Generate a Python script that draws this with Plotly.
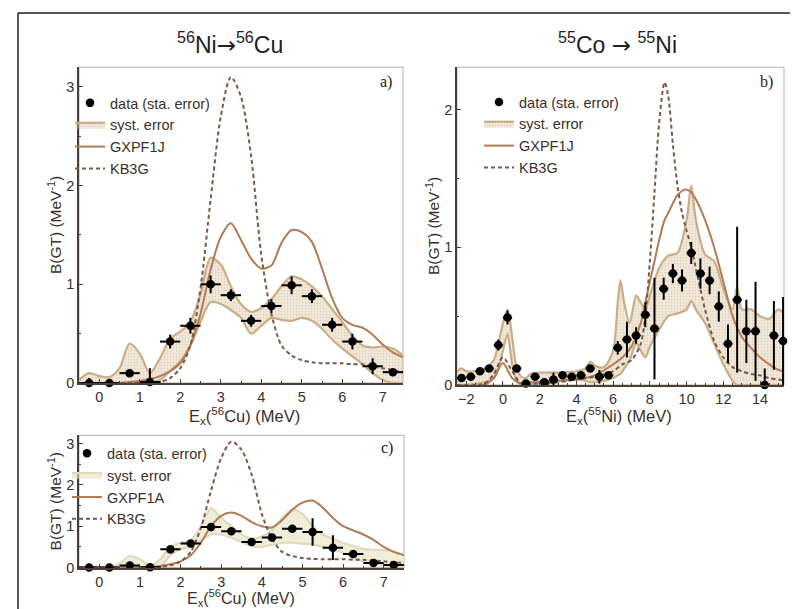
import plotly.graph_objects as go

# ---------------- Panel a: 56Ni -> 56Cu (GXPF1J) ----------------
a_x = [-0.25, 0.25, 0.75, 1.25, 1.75, 2.25, 2.75, 3.25, 3.75, 4.25, 4.75, 5.25, 5.75, 6.25, 6.75, 7.25]
a_y = [0.0, 0.0, 0.10, 0.01, 0.42, 0.58, 1.00, 0.89, 0.63, 0.78, 0.99, 0.88, 0.59, 0.42, 0.17, 0.11]
a_err = [0.05, 0.01, 0.03, 0.14, 0.07, 0.08, 0.09, 0.06, 0.06, 0.07, 0.09, 0.07, 0.07, 0.08, 0.08, 0.04]

grid_ac = [-0.5, -0.25, 0.0, 0.25, 0.5, 0.75, 1.0, 1.25, 1.5, 1.75, 2.0, 2.25, 2.5, 2.75, 3.0, 3.25, 3.5,
           3.75, 4.0, 4.25, 4.5, 4.75, 5.0, 5.25, 5.5, 5.75, 6.0, 6.25, 6.5, 6.75, 7.0, 7.25, 7.5]
a_band_hi = [0.03, 0.10, 0.07, 0.06, 0.15, 0.40, 0.30, 0.10, 0.25, 0.45, 0.52, 0.62, 0.90, 1.27, 1.20, 0.98, 0.80,
             0.72, 0.76, 0.85, 0.98, 1.08, 1.05, 0.98, 0.88, 0.75, 0.62, 0.48, 0.38, 0.36, 0.37, 0.35, 0.28]
a_band_lo = [0.0, 0.0, 0.0, 0.0, 0.0, 0.0, 0.0, 0.0, 0.03, 0.12, 0.22, 0.38, 0.62, 0.82, 0.80, 0.74, 0.66,
             0.50, 0.58, 0.66, 0.64, 0.63, 0.66, 0.63, 0.55, 0.44, 0.35, 0.27, 0.19, 0.10, 0.03, 0.0, 0.0]
a_gxpf = [0.0, 0.0, 0.0, 0.0, 0.0, 0.01, 0.02, 0.04, 0.07, 0.12, 0.20, 0.38, 0.70, 1.15, 1.48, 1.62, 1.45,
          1.26, 1.16, 1.19, 1.42, 1.55, 1.53, 1.43, 1.16, 0.86, 0.66, 0.59, 0.56, 0.49, 0.39, 0.31, 0.26]
a_kb3g = [0.0, 0.0, 0.0, 0.0, 0.0, 0.0, 0.0, 0.0, 0.01, 0.05, 0.15, 0.38, 0.96, 1.86, 2.70, 3.10, 2.90,
          2.30, 1.30, 0.70, 0.38, 0.28, 0.23, 0.21, 0.20, 0.20, 0.20, 0.19, 0.19, 0.17, 0.15, 0.13, 0.11]

# ---------------- Panel b: 55Co -> 55Ni ----------------
b_x = [-2.25, -1.75, -1.25, -0.75, -0.25, 0.25, 0.75, 1.25, 1.75, 2.25, 2.75, 3.25, 3.75, 4.25, 4.75, 5.25,
       5.75, 6.25, 6.75, 7.25, 7.75, 8.25, 8.75, 9.25, 9.75, 10.25, 10.75, 11.25, 11.75, 12.25, 12.75,
       13.25, 13.75, 14.25, 14.75, 15.25]
b_y = [0.05, 0.06, 0.10, 0.12, 0.29, 0.49, 0.12, 0.01, 0.06, 0.02, 0.04, 0.07, 0.06, 0.07, 0.12, 0.06,
       0.07, 0.27, 0.33, 0.36, 0.51, 0.41, 0.70, 0.81, 0.76, 0.96, 0.81, 0.76, 0.57, 0.30, 0.62,
       0.39, 0.39, 0.0, 0.36, 0.32]
b_err = [0.02, 0.02, 0.02, 0.02, 0.04, 0.05, 0.02, 0.02, 0.02, 0.02, 0.05, 0.02, 0.02, 0.02, 0.02, 0.05,
         0.02, 0.05, 0.13, 0.06, 0.09, 0.37, 0.08, 0.07, 0.08, 0.08, 0.11, 0.10, 0.11, 0.14, 0.53,
         0.23, 0.36, 0.12, 0.25, 0.32]

b_band_x = [-2.5, -2.25, -2.0, -1.5, -1.0, -0.5, -0.25, 0.0, 0.25, 0.5, 0.75, 1.0, 1.25, 1.5, 2.0, 3.0, 4.0,
            4.5, 4.75, 5.0, 5.5, 6.0, 6.25, 6.4, 6.6, 6.9, 7.25, 7.5, 7.75, 8.0, 8.5, 9.0, 9.5, 10.0, 10.25,
            10.5, 11.0, 11.5, 12.0, 12.5, 12.75, 13.0, 13.5, 14.0, 14.5, 15.0, 15.3]
b_band_hi = [0.10, 0.12, 0.10, 0.10, 0.12, 0.18, 0.30, 0.45, 0.55, 0.35, 0.12, 0.06, 0.05, 0.08, 0.09, 0.09, 0.10,
             0.12, 0.17, 0.14, 0.13, 0.25, 0.60, 0.76, 0.60, 0.45, 0.65, 0.60, 0.55, 0.65, 0.85, 0.94, 0.96, 1.20, 1.45,
             1.20, 0.95, 0.90, 0.70, 0.55, 0.72, 0.55, 0.55, 0.50, 0.48, 0.55, 0.52]
b_band_lo = [0.0, 0.0, 0.0, 0.01, 0.02, 0.05, 0.12, 0.25, 0.37, 0.15, 0.03, 0.0, 0.0, 0.0, 0.02, 0.03, 0.04,
             0.03, 0.02, 0.02, 0.03, 0.05, 0.07, 0.08, 0.12, 0.18, 0.30, 0.25, 0.20, 0.28, 0.40, 0.50, 0.52, 0.55, 0.61,
             0.55, 0.45, 0.30, 0.15, 0.03, 0.0, 0.0, 0.0, 0.0, 0.0, 0.0, 0.0]

b_th_x = [-2.5, -1.0, -0.5, 0.0, 0.5, 1.0, 1.5, 2.0, 3.0, 4.0, 5.0, 6.0, 6.5, 7.0, 7.5, 7.75, 8.0, 8.25, 8.5,
          8.8, 9.0, 9.25, 9.5, 9.75, 9.9, 10.0, 10.25, 10.5, 11.0, 11.5, 12.0, 12.5, 13.0, 13.5, 14.0, 14.5, 15.0, 15.3]
b_gxpf = [0.0, 0.0, 0.05, 0.16, 0.05, 0.01, 0.02, 0.02, 0.03, 0.04, 0.07, 0.15, 0.20, 0.28, 0.45, 0.60, 0.75, 0.90, 1.05,
          1.20, 1.25, 1.32, 1.38, 1.41, 1.42, 1.42, 1.40, 1.35, 1.20, 1.00, 0.75, 0.50, 0.35, 0.27, 0.20, 0.15, 0.11, 0.10]
b_kb3g = [0.0, 0.01, 0.08, 0.20, 0.10, 0.01, 0.01, 0.01, 0.02, 0.04, 0.06, 0.10, 0.15, 0.18, 0.30, 0.50, 0.90, 1.40, 1.90,
          2.20, 2.10, 1.75, 1.45, 1.25, 1.17, 1.12, 1.00, 0.85, 0.55, 0.32, 0.20, 0.13, 0.10, 0.08, 0.07, 0.05, 0.04, 0.03]

# ---------------- Panel c: 56Ni -> 56Cu (GXPF1A) ----------------
c_y = [0.0, 0.0, 0.05, 0.01, 0.44, 0.58, 0.98, 0.88, 0.62, 0.73, 0.94, 0.86, 0.48, 0.33, 0.11, 0.06]
c_err = [0.02, 0.02, 0.05, 0.02, 0.08, 0.06, 0.10, 0.05, 0.05, 0.08, 0.06, 0.33, 0.30, 0.04, 0.04, 0.03]
c_band_hi = [0.0, 0.0, 0.0, 0.0, 0.10, 0.28, 0.20, 0.05, 0.20, 0.50, 0.60, 0.65, 1.00, 1.43, 1.20, 1.00, 0.80,
             0.70, 0.75, 0.90, 1.20, 1.40, 1.30, 1.00, 0.80, 0.70, 0.60, 0.52, 0.45, 0.43, 0.42, 0.38, 0.30]
c_band_lo = [0.0, 0.0, 0.0, 0.0, 0.0, 0.0, 0.0, 0.0, 0.02, 0.30, 0.45, 0.50, 0.65, 0.80, 0.80, 0.72, 0.62,
             0.52, 0.50, 0.55, 0.60, 0.60, 0.58, 0.56, 0.50, 0.45, 0.35, 0.25, 0.15, 0.10, 0.05, 0.02, 0.0]
c_gxpf = [0.0, 0.0, 0.0, 0.0, 0.0, 0.0, 0.0, 0.01, 0.04, 0.08, 0.15, 0.30, 0.60, 1.00, 1.25, 1.33, 1.25,
          1.10, 1.00, 0.97, 1.15, 1.40, 1.57, 1.62, 1.45, 1.20, 1.00, 0.90, 0.80, 0.67, 0.50, 0.38, 0.30]
c_kb3g = [0.0, 0.0, 0.0, 0.0, 0.0, 0.0, 0.0, 0.0, 0.01, 0.05, 0.15, 0.38, 0.96, 1.86, 2.65, 3.05, 2.85,
          2.25, 1.30, 0.70, 0.38, 0.28, 0.23, 0.21, 0.20, 0.20, 0.20, 0.19, 0.19, 0.17, 0.15, 0.13, 0.11]

xerr_half = 0.25

# ---------------- styling ----------------
FONT = "Liberation Sans, Arial, sans-serif"
TXT = "#3a302a"
SOLID = "#b27a55"
DASH = "#7a5848"
BAND_EDGE_A = "#c9ad87"
BAND_FILL_A = "rgba(215,190,150,0.35)"
BAND_EDGE_C = "#e0d9bb"
BAND_FILL_C = "rgba(232,226,190,0.55)"

W, H = 798, 609
def px(x):
    return x / W
def py(y):
    return 1 - y / H

fig = go.Figure()
gname_map = {"a": "GXPF1J", "b": "GXPF1J", "c": "GXPF1A"}

def add_panel(xa, ya, leg, dx, dy, derr, gx, hi, lo, tx, gxpf, kb3g, gname, edge, fill, msize):
    fig.add_trace(go.Scatter(x=gx, y=lo, mode="lines", line=dict(color=edge, width=2.2, shape="spline", smoothing=0.8),
                             xaxis=xa, yaxis=ya, showlegend=False, hoverinfo="skip", legend=leg))
    fig.add_trace(go.Scatter(x=gx, y=hi, mode="lines", fill="tonexty", fillcolor=fill,
                             fillpattern=dict(shape=".", fgcolor=edge, bgcolor=fill, size=3, solidity=0.25),
                             line=dict(color=edge, width=2.2, shape="spline", smoothing=0.8),
                             xaxis=xa, yaxis=ya, name="syst. error", legend=leg, legendrank=2, hoverinfo="skip"))
    fig.add_trace(go.Scatter(x=tx, y=gxpf, mode="lines",
                             line=dict(color=SOLID, width=2, shape="spline", smoothing=0.8),
                             xaxis=xa, yaxis=ya, name=gname_map[gname], legend=leg, legendrank=3))
    fig.add_trace(go.Scatter(x=tx, y=kb3g, mode="lines",
                             line=dict(color=DASH, width=2, dash="4px,3px", shape="spline", smoothing=0.8),
                             xaxis=xa, yaxis=ya, name="KB3G", legend=leg, legendrank=4))
    fig.add_trace(go.Scatter(x=dx, y=dy, mode="markers",
                             marker=dict(color="black", size=msize),
                             error_y=dict(type="data", array=derr, color="black", thickness=2, width=0),
                             error_x=dict(type="constant", value=xerr_half, color="black", thickness=2, width=0),
                             cliponaxis=False, xaxis=xa, yaxis=ya, name="data (sta. error)", legend=leg, legendrank=1))

add_panel("x", "y", "legend", a_x, a_y, a_err, grid_ac, a_band_hi, a_band_lo, grid_ac, a_gxpf, a_kb3g, "a",
          BAND_EDGE_A, BAND_FILL_A, 8.5)
add_panel("x2", "y2", "legend2", b_x, b_y, b_err, b_band_x, b_band_hi, b_band_lo, b_th_x, b_gxpf, b_kb3g, "b",
          BAND_EDGE_A, BAND_FILL_A, 8.5)
add_panel("x3", "y3", "legend3", a_x, c_y, c_err, grid_ac, c_band_hi, c_band_lo, grid_ac, c_gxpf, c_kb3g, "c",
          BAND_EDGE_C, BAND_FILL_C, 8.5)

axis_common = dict(showline=True, linecolor="#4a3f38", linewidth=1.5, ticks="inside", ticklen=4,
                   tickcolor="#4a3f38", showgrid=False, zeroline=False,
                   tickfont=dict(family=FONT, size=14.5, color=TXT))
minor = dict(ticks="inside", ticklen=2, dtick=0.5, tickcolor="#4a3f38")

dom_a_x = [px(71), px(395)]
dom_a_y = [py(380), py(60)]
dom_b_x = [px(449), px(776)]
dom_b_y = [py(382), py(60)]
dom_c_x = [px(71), px(396)]
dom_c_y = [py(567), py(433)]

leg_common = dict(xanchor="left", yanchor="top", bgcolor="rgba(0,0,0,0)", traceorder="normal",
                  tracegroupgap=0, itemwidth=30)

fig.update_layout(
    width=W, height=H, margin=dict(l=0, r=0, t=0, b=0),
    paper_bgcolor="white", plot_bgcolor="white",
    font=dict(family=FONT, color=TXT),
    xaxis=dict(domain=dom_a_x, range=[-0.5, 7.5], dtick=1, anchor="y", minor=minor, **axis_common),
    yaxis=dict(domain=dom_a_y, range=[0, 3.2], dtick=1, anchor="x", minor=minor, **axis_common),
    xaxis2=dict(domain=dom_b_x, range=[-2.5, 15.3], dtick=2, anchor="y2", minor=minor, **axis_common),
    yaxis2=dict(domain=dom_b_y, range=[0, 2.31], dtick=1, anchor="x2", minor=minor, **axis_common),
    xaxis3=dict(domain=dom_c_x, range=[-0.5, 7.5], dtick=1, anchor="y3", minor=minor, **axis_common),
    yaxis3=dict(domain=dom_c_y, range=[0, 3.2], dtick=1, anchor="x3", minor=minor, **axis_common),
    legend=dict(x=px(62), y=py(80), font=dict(family=FONT, size=14.5, color=TXT), **leg_common),
    legend2=dict(x=px(471), y=py(79), font=dict(family=FONT, size=14.5, color=TXT), **leg_common),
    legend3=dict(x=px(59), y=py(435), font=dict(family=FONT, size=14.5, color=TXT), **leg_common),
)

for xr, yr in [("x", "y"), ("x2", "y2"), ("x3", "y3")]:
    fig.add_shape(type="rect", xref=f"{xr} domain", yref=f"{yr} domain", x0=0, x1=1, y0=0, y1=1,
                  line=dict(color="#b8afa5", width=1), layer="below")

fig.add_shape(type="line", xref="paper", yref="paper", x0=px(10), x1=1, y0=py(5), y1=py(5),
              line=dict(color="#222", width=1.5))
fig.add_shape(type="line", xref="paper", yref="paper", x0=px(10), x1=px(10), y0=py(5), y1=0,
              line=dict(color="#222", width=1.5))

ARROW = '<span style="font-family:DejaVu Sans">→</span>'
ann = []
ann.append(dict(x=px(222), y=py(35), text="<sup>56</sup>Ni" + ARROW + "<sup>56</sup>Cu",
                font=dict(size=23, family=FONT, color="#222")))
ann.append(dict(x=px(609), y=py(35), text="<sup>55</sup>Co " + ARROW + " <sup>55</sup>Ni",
                font=dict(size=23, family=FONT, color="#222")))
SERIF = "Liberation Serif, Times New Roman, serif"
ann.append(dict(x=px(386), y=py(75), text="a)", xanchor="right", font=dict(size=16, family=SERIF, color="#222")))
ann.append(dict(x=px(767), y=py(75), text="b)", xanchor="right", font=dict(size=16, family=SERIF, color="#222")))
ann.append(dict(x=px(387), y=py(446), text="c)", xanchor="right", font=dict(size=16, family=SERIF, color="#222")))
ytitle = "B(GT) (MeV<sup>-1</sup>)"
ann.append(dict(x=px(47), y=py(220), text=ytitle, textangle=-90, font=dict(size=15.5, family=FONT, color=TXT)))
ann.append(dict(x=px(425), y=py(221), text=ytitle, textangle=-90, font=dict(size=15.5, family=FONT, color=TXT)))
ann.append(dict(x=px(47), y=py(500), text=ytitle, textangle=-90, font=dict(size=15.5, family=FONT, color=TXT)))
ann.append(dict(x=px(236), y=py(413), text="E<sub>x</sub>(<sup>56</sup>Cu) (MeV)", font=dict(size=16.5, family=FONT, color=TXT)))
ann.append(dict(x=px(611), y=py(413), text="E<sub>x</sub>(<sup>55</sup>Ni) (MeV)", font=dict(size=16.5, family=FONT, color=TXT)))
ann.append(dict(x=px(233), y=py(598), text="E<sub>x</sub>(<sup>56</sup>Cu) (MeV)", font=dict(size=16, family=FONT, color=TXT)))

for a in ann:
    a.update(xref="paper", yref="paper", showarrow=False, yanchor="middle")
    a.setdefault("xanchor", "center")
    fig.add_annotation(**a)

fig.write_html("out.html")
